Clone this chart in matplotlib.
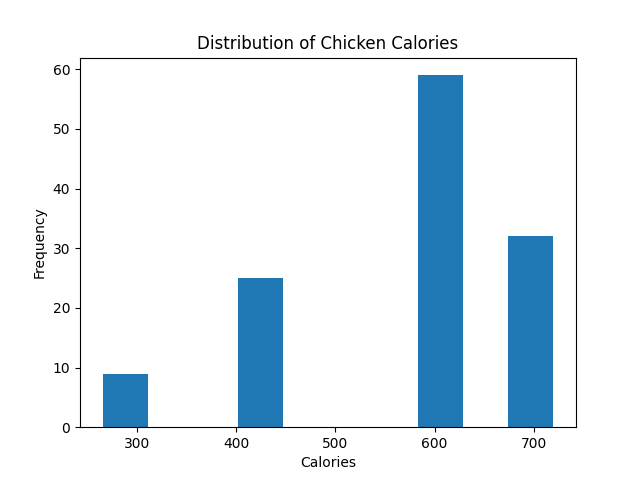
import numpy as np
import matplotlib
matplotlib.use('Agg')
import matplotlib.pyplot as plt

# Calorie values and how many chicken items have each
calories = [265, 420, 600, 720]
counts = [9, 25, 59, 32]

fig, ax = plt.subplots(figsize=(6.4, 4.8), dpi=100)
ax.hist(calories, bins=10, weights=counts, color='#1f77b4')

ax.set_title('Distribution of Chicken Calories')
ax.set_xlabel('Calories')
ax.set_ylabel('Frequency')

fig.savefig('out.png')
